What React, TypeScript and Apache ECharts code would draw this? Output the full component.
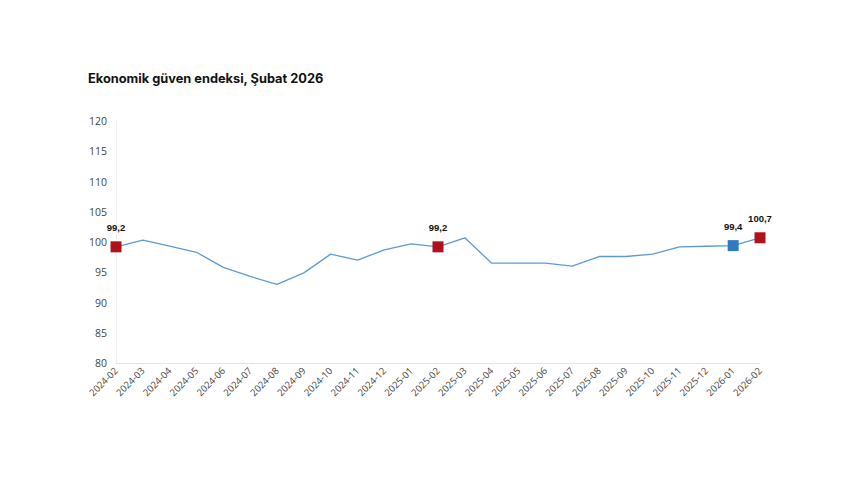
import React, { useEffect, useRef } from "react";
import * as echarts from "echarts";

const categories = [
  "2024-02", "2024-03", "2024-04", "2024-05", "2024-06", "2024-07", "2024-08",
  "2024-09", "2024-10", "2024-11", "2024-12", "2025-01", "2025-02", "2025-03",
  "2025-04", "2025-05", "2025-06", "2025-07", "2025-08", "2025-09", "2025-10",
  "2025-11", "2025-12", "2026-01", "2026-02",
];
const values = [
  99.2, 100.3, 99.3, 98.3, 95.8, 94.3, 93.0, 94.9, 98.0, 97.0, 98.7, 99.7, 99.2,
  100.7, 96.5, 96.5, 96.5, 96.0, 97.6, 97.6, 98.0, 99.2, 99.3, 99.4, 100.7,
];
const redPoints = ["2024-02", "2025-02", "2026-02"];
const bluePoints = ["2026-01"];
const yTicks = { min: 80, max: 120, interval: 5 };
const title = "Ekonomik güven endeksi, Şubat 2026";

const RED = "#B0121B";
const BLUE = "#2E7BBF";
const LINE = "#5B9BD5";

export default function App() {
  const ref = useRef<HTMLDivElement>(null);
  useEffect(() => {
    const chart = echarts.init(ref.current!, null, { renderer: "svg" });
    const mk = (cats: string[]) =>
      cats.map((c) => {
        const i = categories.indexOf(c);
        return [i, values[i]];
      });
    const label = {
      show: true,
      position: "top",
      distance: 9,
      fontFamily: "Liberation Sans, Arial, sans-serif",
      fontSize: 9.5,
      fontWeight: "bold",
      color: "#111",
      formatter: (p: any) => String(p.value[1].toFixed(1)).replace(".", ","),
    };
    chart.setOption({
      animation: false,
      title: {
        text: title,
        left: 83,
        top: 67,
        textStyle: {
          fontFamily: "Inter, sans-serif",
          fontSize: 12.8,
          fontWeight: "bold",
          color: "#111",
        },
      },
      grid: { left: 116, right: 100, top: 121, bottom: 141, containLabel: false },
      xAxis: {
        type: "category",
        data: categories,
        boundaryGap: false,
        axisLine: { lineStyle: { color: "#e3e3e3", width: 1 } },
        axisTick: { show: false },
        axisLabel: {
          rotate: 45,
          interval: 0,
          margin: 6,
          fontFamily: "Open Sans, sans-serif",
          fontSize: 9.5,
          color: "#444",
        },
      },
      yAxis: {
        type: "value",
        min: yTicks.min,
        max: yTicks.max,
        interval: yTicks.interval,
        splitLine: { show: false },
        axisLine: { show: true, lineStyle: { color: "#f0f0f0", width: 1 } },
        axisTick: { show: false },
        axisLabel: {
          margin: 9,
          fontFamily: "Open Sans, sans-serif",
          fontSize: 10.5,
          color: "#444",
        },
      },
      series: [
        {
          type: "line",
          data: values,
          symbol: "none",
          lineStyle: { color: LINE, width: 1.3 },
          z: 2,
        },
        {
          type: "scatter",
          data: mk(redPoints),
          symbol: "rect",
          symbolSize: 11,
          itemStyle: { color: RED, opacity: 1 },
          label,
          z: 3,
        },
        {
          type: "scatter",
          data: mk(bluePoints),
          symbol: "rect",
          symbolSize: 11,
          itemStyle: { color: BLUE, opacity: 1 },
          label,
          z: 3,
        },
      ],
    });
    return () => chart.dispose();
  }, []);
  return (
    <div
      ref={ref}
      style={{ position: "fixed", left: 0, top: 0, width: 860, height: 504, background: "#fff" }}
    />
  );
}
